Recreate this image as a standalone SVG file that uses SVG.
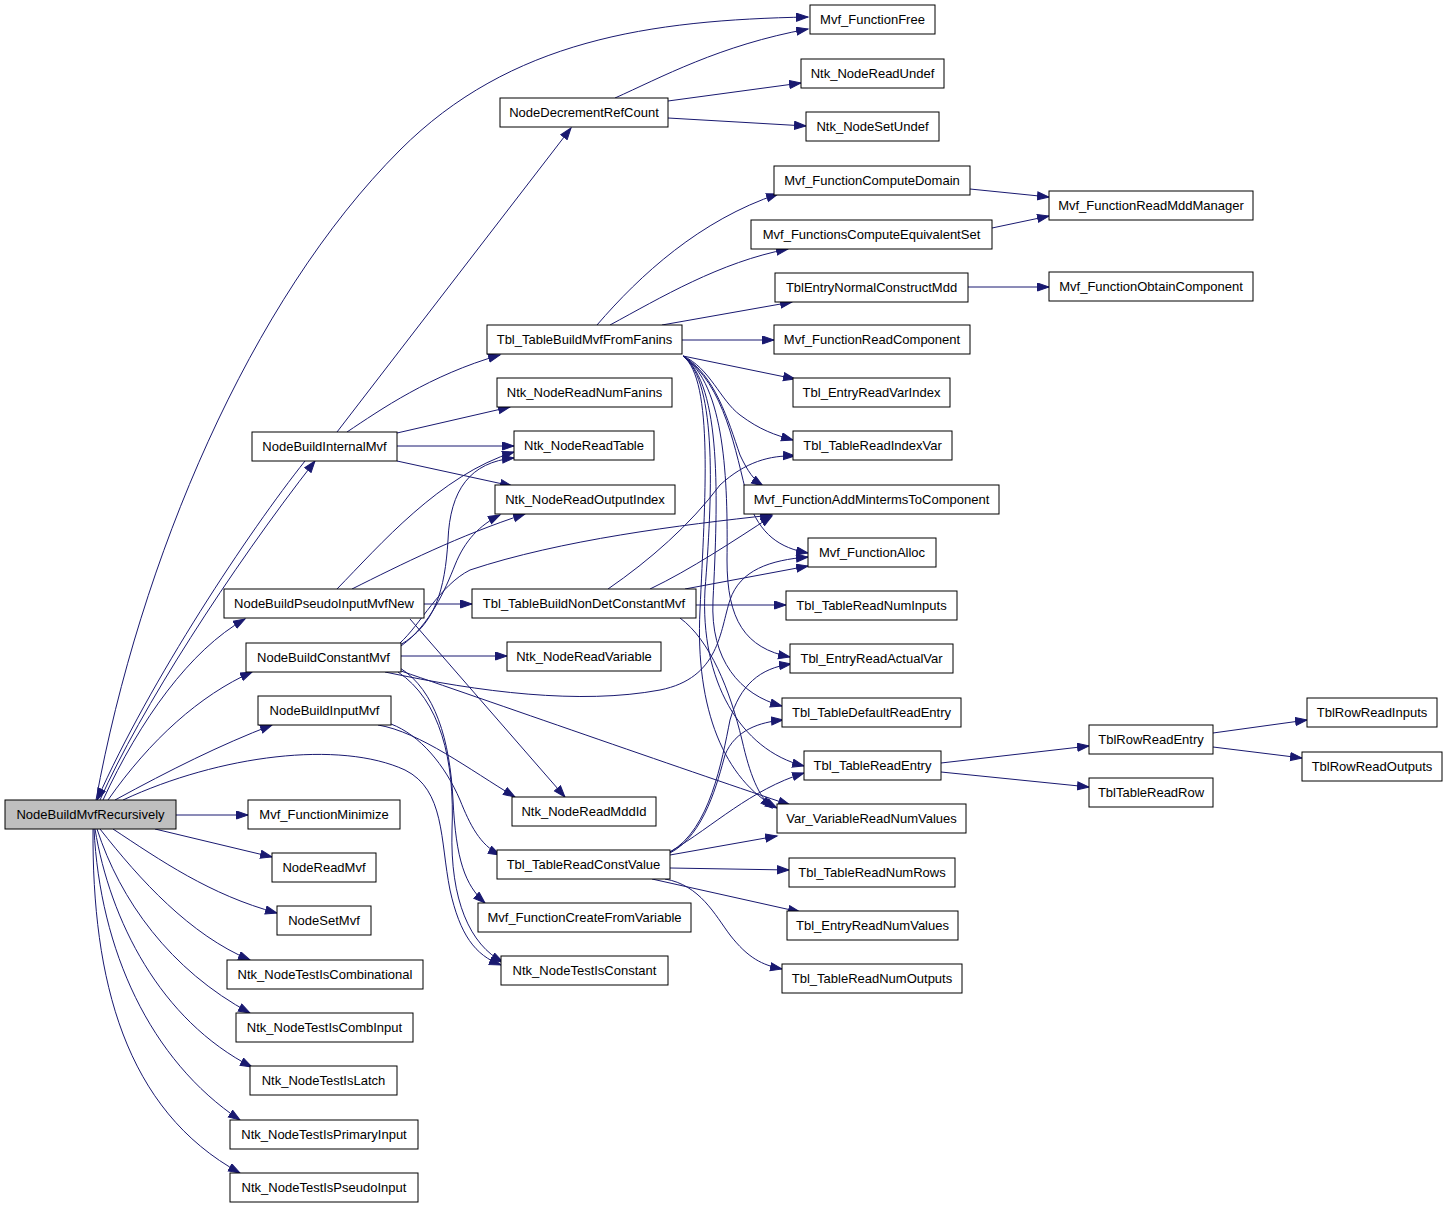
<svg xmlns="http://www.w3.org/2000/svg" width="1448" height="1208" viewBox="0 0 1448 1208">
<style>
.n rect{fill:#fff;stroke:#000;stroke-width:1}
.n text{font-family:"Liberation Sans",Helvetica,Arial,sans-serif;font-size:13px;text-anchor:middle;fill:#000}
#N0 rect{fill:#bfbfbf}
#edges path{fill:none;stroke:#191970;stroke-width:1;marker-end:url(#ah)}
</style>
<defs>
<marker id="ah" markerUnits="userSpaceOnUse" markerWidth="14" markerHeight="11" refX="12" refY="4.5" orient="auto">
<path d="M0.5,0.5 L12,4.5 L0.5,8.5 z" fill="#191970" stroke="#191970"/>
</marker>
</defs>
<rect width="1448" height="1208" fill="#fff"/>
<g id="edges">
<path d="M96,800 C140,560 250,300 400,150 C510,40 650,20 808,17"/>
<path d="M615,98 C660,78 720,45 808,29"/>
<path d="M668,101 L801,83"/>
<path d="M668,118 L806,126"/>
<path d="M337,432 L571,128"/>
<path d="M347,432 C380,410 430,375 500,355"/>
<path d="M397,433 L510,407"/>
<path d="M397,446 L514,446"/>
<path d="M397,461 L512,486"/>
<path d="M305,461 C250,530 150,680 97,800"/>
<path d="M100,800 C140,710 230,570 315,461"/>
<path d="M103,800 C140,720 190,650 245,619"/>
<path d="M108,800 C150,740 200,695 252,672"/>
<path d="M115,800 C170,770 220,745 272,725"/>
<path d="M123,800 C220,755 340,740 405,770 C445,790 440,840 450,890 C460,935 475,955 501,965"/>
<path d="M176,815 L248,815"/>
<path d="M155,829 L272,857"/>
<path d="M113,829 C160,860 210,895 277,913"/>
<path d="M100,829 C140,880 190,935 250,960"/>
<path d="M97,829 C120,900 170,970 250,1013"/>
<path d="M95,829 C110,920 160,1020 252,1067"/>
<path d="M94,829 C100,950 150,1060 240,1120"/>
<path d="M93,829 C92,980 125,1110 240,1173"/>
<path d="M337,589 C380,545 440,475 514,452"/>
<path d="M352,589 C400,565 460,535 525,514"/>
<path d="M424,604 L472,604"/>
<path d="M410,619 L565,797"/>
<path d="M400,645 C435,625 445,590 448,540 C450,490 470,462 514,458"/>
<path d="M401,646 C430,625 445,590 455,565 C465,540 480,525 500,515"/>
<path d="M400,643 C420,625 440,585 470,570 C560,540 680,525 772,515"/>
<path d="M385,672 C480,692 580,705 660,690 C720,678 720,630 730,600 C740,570 770,560 808,557"/>
<path d="M401,656 L507,656"/>
<path d="M401,671 C500,705 700,775 790,805"/>
<path d="M400,668 C435,690 450,740 453,800 C456,860 465,885 485,903"/>
<path d="M398,672 C440,700 455,760 452,830 C450,900 470,945 503,962"/>
<path d="M378,725 C420,732 470,770 515,797"/>
<path d="M391,724 C420,735 445,765 460,800 C470,825 480,845 500,855"/>
<path d="M597,325 C640,275 700,220 778,194"/>
<path d="M610,325 C660,298 720,262 788,249"/>
<path d="M662,325 L792,302"/>
<path d="M682,340 L774,340"/>
<path d="M683,356 L795,379"/>
<path d="M683,356 C710,368 720,400 740,415 C760,430 775,435 793,440"/>
<path d="M683,356 C715,375 728,420 740,455 C748,472 754,480 763,486"/>
<path d="M683,356 C725,385 735,450 748,500 C760,535 780,548 808,553"/>
<path d="M683,356 C725,385 728,480 727,560 C727,620 745,648 790,657"/>
<path d="M683,356 C722,385 718,500 713,600 C710,660 740,695 782,706"/>
<path d="M683,356 C718,382 712,500 705,590 C700,680 740,750 804,766"/>
<path d="M683,356 C714,380 705,500 700,610 C695,710 725,780 777,808"/>
<path d="M608,589 C650,560 690,525 720,485 C745,462 770,455 795,456"/>
<path d="M650,589 C690,570 735,540 772,516"/>
<path d="M685,589 L808,566"/>
<path d="M696,605 L786,605"/>
<path d="M680,618 C710,640 730,690 742,740 C750,775 758,795 772,808"/>
<path d="M670,852 C710,830 722,760 730,720 C740,685 760,668 791,664"/>
<path d="M670,853 C705,835 718,780 725,755 C735,730 760,722 783,720"/>
<path d="M670,852 C715,825 750,790 804,773"/>
<path d="M670,855 L777,836"/>
<path d="M670,868 L789,870"/>
<path d="M652,879 L800,912"/>
<path d="M665,879 C700,885 715,915 730,935 C748,958 762,965 782,969"/>
<path d="M941,763 L1089,746"/>
<path d="M941,772 L1089,787"/>
<path d="M1213,733 L1307,720"/>
<path d="M1213,747 L1302,758"/>
<path d="M970,189 L1049,197"/>
<path d="M992,228 L1049,216"/>
<path d="M968,287 L1049,287"/>
</g>
<g id="N0" class="n"><rect x="5" y="800" width="171" height="29"/><text x="90.5" y="819">NodeBuildMvfRecursively</text></g>
<g id="NBIM" class="n"><rect x="252" y="432" width="145" height="29"/><text x="324.5" y="451">NodeBuildInternalMvf</text></g>
<g id="NBPI" class="n"><rect x="224" y="589" width="200" height="29"/><text x="324" y="608">NodeBuildPseudoInputMvfNew</text></g>
<g id="NBCM" class="n"><rect x="246" y="643" width="155" height="29"/><text x="323.5" y="662">NodeBuildConstantMvf</text></g>
<g id="NBIN" class="n"><rect x="258" y="696" width="133" height="29"/><text x="324.5" y="715">NodeBuildInputMvf</text></g>
<g id="MFMin" class="n"><rect x="248" y="800" width="152" height="29"/><text x="324" y="819">Mvf_FunctionMinimize</text></g>
<g id="NRM" class="n"><rect x="272" y="853" width="104" height="29"/><text x="324" y="872">NodeReadMvf</text></g>
<g id="NSM" class="n"><rect x="277" y="906" width="94" height="29"/><text x="324" y="925">NodeSetMvf</text></g>
<g id="TCombl" class="n"><rect x="227" y="960" width="196" height="29"/><text x="325" y="979">Ntk_NodeTestIsCombinational</text></g>
<g id="TCombI" class="n"><rect x="236" y="1013" width="177" height="29"/><text x="324.5" y="1032">Ntk_NodeTestIsCombInput</text></g>
<g id="TLatch" class="n"><rect x="250" y="1066" width="147" height="29"/><text x="323.5" y="1085">Ntk_NodeTestIsLatch</text></g>
<g id="TPI" class="n"><rect x="230" y="1120" width="188" height="29"/><text x="324" y="1139">Ntk_NodeTestIsPrimaryInput</text></g>
<g id="TPsI" class="n"><rect x="230" y="1173" width="188" height="29"/><text x="324" y="1192">Ntk_NodeTestIsPseudoInput</text></g>
<g id="NDRC" class="n"><rect x="500" y="98" width="168" height="29"/><text x="584" y="117">NodeDecrementRefCount</text></g>
<g id="TBMF" class="n"><rect x="487" y="325" width="195" height="29"/><text x="584.5" y="344">Tbl_TableBuildMvfFromFanins</text></g>
<g id="NRNF" class="n"><rect x="497" y="378" width="175" height="29"/><text x="584.5" y="397">Ntk_NodeReadNumFanins</text></g>
<g id="NRT" class="n"><rect x="514" y="431" width="140" height="29"/><text x="584" y="450">Ntk_NodeReadTable</text></g>
<g id="NROI" class="n"><rect x="495" y="485" width="180" height="29"/><text x="585" y="504">Ntk_NodeReadOutputIndex</text></g>
<g id="TBND" class="n"><rect x="472" y="589" width="224" height="29"/><text x="584" y="608">Tbl_TableBuildNonDetConstantMvf</text></g>
<g id="NRV" class="n"><rect x="507" y="642" width="154" height="29"/><text x="584" y="661">Ntk_NodeReadVariable</text></g>
<g id="NRMI" class="n"><rect x="512" y="797" width="144" height="29"/><text x="584" y="816">Ntk_NodeReadMddId</text></g>
<g id="TRCV" class="n"><rect x="497" y="850" width="173" height="29"/><text x="583.5" y="869">Tbl_TableReadConstValue</text></g>
<g id="MFCV" class="n"><rect x="478" y="903" width="213" height="29"/><text x="584.5" y="922">Mvf_FunctionCreateFromVariable</text></g>
<g id="NTIC" class="n"><rect x="501" y="956" width="167" height="29"/><text x="584.5" y="975">Ntk_NodeTestIsConstant</text></g>
<g id="MFF" class="n"><rect x="810" y="5" width="125" height="29"/><text x="872.5" y="24">Mvf_FunctionFree</text></g>
<g id="NRU" class="n"><rect x="801" y="59" width="143" height="29"/><text x="872.5" y="78">Ntk_NodeReadUndef</text></g>
<g id="NSU" class="n"><rect x="806" y="112" width="133" height="29"/><text x="872.5" y="131">Ntk_NodeSetUndef</text></g>
<g id="MFCD" class="n"><rect x="774" y="166" width="196" height="29"/><text x="872" y="185">Mvf_FunctionComputeDomain</text></g>
<g id="MFCES" class="n"><rect x="751" y="220" width="241" height="29"/><text x="871.5" y="239">Mvf_FunctionsComputeEquivalentSet</text></g>
<g id="TENC" class="n"><rect x="775" y="273" width="193" height="29"/><text x="871.5" y="292">TblEntryNormalConstructMdd</text></g>
<g id="MFRC" class="n"><rect x="774" y="325" width="196" height="29"/><text x="872" y="344">Mvf_FunctionReadComponent</text></g>
<g id="TERVI" class="n"><rect x="793" y="378" width="157" height="29"/><text x="871.5" y="397">Tbl_EntryReadVarIndex</text></g>
<g id="TTRIV" class="n"><rect x="793" y="431" width="159" height="29"/><text x="872.5" y="450">Tbl_TableReadIndexVar</text></g>
<g id="MFAMC" class="n"><rect x="744" y="485" width="255" height="29"/><text x="871.5" y="504">Mvf_FunctionAddMintermsToComponent</text></g>
<g id="MFA" class="n"><rect x="808" y="538" width="128" height="29"/><text x="872" y="557">Mvf_FunctionAlloc</text></g>
<g id="TTRNI" class="n"><rect x="786" y="591" width="171" height="29"/><text x="871.5" y="610">Tbl_TableReadNumInputs</text></g>
<g id="TERAV" class="n"><rect x="790" y="644" width="163" height="29"/><text x="871.5" y="663">Tbl_EntryReadActualVar</text></g>
<g id="TTDRE" class="n"><rect x="782" y="698" width="179" height="29"/><text x="871.5" y="717">Tbl_TableDefaultReadEntry</text></g>
<g id="TTRE" class="n"><rect x="804" y="751" width="137" height="29"/><text x="872.5" y="770">Tbl_TableReadEntry</text></g>
<g id="VVRNV" class="n"><rect x="777" y="804" width="189" height="29"/><text x="871.5" y="823">Var_VariableReadNumValues</text></g>
<g id="TTRNR" class="n"><rect x="789" y="858" width="166" height="29"/><text x="872" y="877">Tbl_TableReadNumRows</text></g>
<g id="TERNV" class="n"><rect x="787" y="911" width="171" height="29"/><text x="872.5" y="930">Tbl_EntryReadNumValues</text></g>
<g id="TTRNO" class="n"><rect x="782" y="964" width="180" height="29"/><text x="872" y="983">Tbl_TableReadNumOutputs</text></g>
<g id="MFRMM" class="n"><rect x="1049" y="191" width="204" height="29"/><text x="1151" y="210">Mvf_FunctionReadMddManager</text></g>
<g id="MFOC" class="n"><rect x="1049" y="272" width="204" height="29"/><text x="1151" y="291">Mvf_FunctionObtainComponent</text></g>
<g id="TRRE" class="n"><rect x="1089" y="725" width="124" height="29"/><text x="1151" y="744">TblRowReadEntry</text></g>
<g id="TTRR" class="n"><rect x="1089" y="778" width="124" height="29"/><text x="1151" y="797">TblTableReadRow</text></g>
<g id="TRRI" class="n"><rect x="1307" y="698" width="130" height="29"/><text x="1372" y="717">TblRowReadInputs</text></g>
<g id="TRRO" class="n"><rect x="1302" y="752" width="140" height="29"/><text x="1372" y="771">TblRowReadOutputs</text></g>
</svg>
